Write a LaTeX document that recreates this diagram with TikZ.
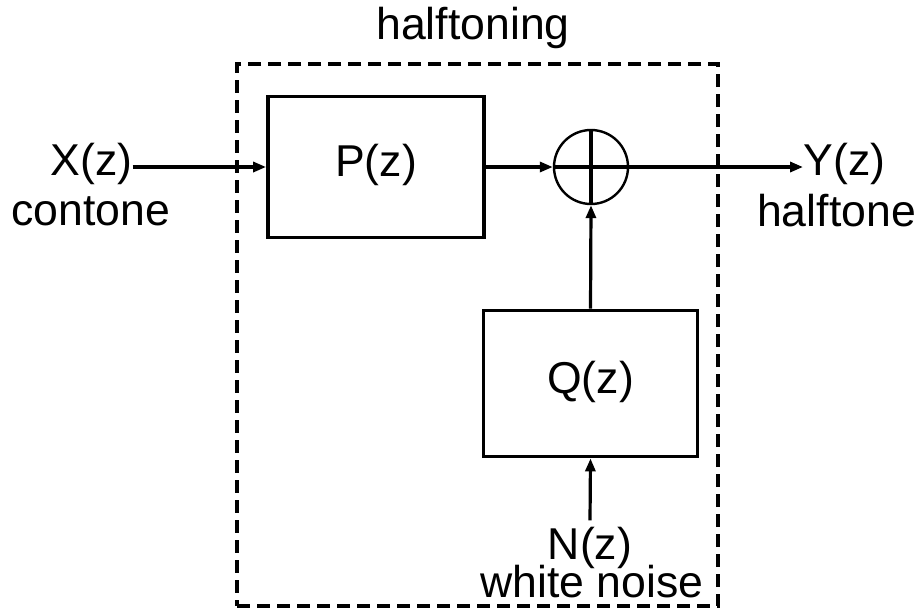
\documentclass[tikz,border=0pt]{standalone}
\usepackage{fontspec}
\setmainfont{Liberation Sans}
\usetikzlibrary{arrows.meta}
\begin{document}
\begin{tikzpicture}[x=0.5pt,y=-0.5pt,
  lab/.style={inner sep=0pt, font=\fontsize{22.3}{26}\selectfont},
  blk/.style={draw, line width=1.9pt, inner sep=0pt},
  dashbox/.style={draw, line width=1.9pt, dash pattern=on 6.5pt off 3.5pt, inner sep=0pt},
  sumc/.style={draw, circle, line width=1.2pt, minimum size=37pt, inner sep=0pt},
  arr/.style={-{Triangle[length=6.5pt,width=5pt]}, line width=1.6pt}]
\useasboundingbox (0,0) rectangle (919,612);
\node[dashbox, minimum width=240.5pt, minimum height=271pt] (ht) at (477.5,335) {};
\node[lab, anchor=base] (htl) at (473,39) {halftoning};
\node[blk, minimum width=108pt, minimum height=70.5pt] (P) at (376,167) {};
\node[lab, anchor=base] (Pl) at (376,176) {P(z)};
\node[sumc] (S) at (591,167) {};
\draw[line width=1.6pt] (S.west) -- (S.east);
\draw[line width=1.9pt] (S.north) -- (S.south);
\node[blk, minimum width=107pt, minimum height=73pt] (Q) at (590.5,383.5) {};
\node[lab, anchor=base] (Ql) at (590.5,393) {Q(z)};
\node[lab, anchor=base west] (X) at (50,175) {X(z)};
\node[lab, anchor=base] (Xc) at (91,225) {contone};
\node[lab, anchor=base west] (Y) at (803,175) {Y(z)};
\node[lab, anchor=base] (Yh) at (836.5,226) {halftone};
\node[lab, anchor=base] (N) at (590,559) {N(z)};
\node[lab, anchor=base] (Nw) at (592,597) {white noise};
\draw[arr] (X.east |- P.west) -- (P.west);
\draw[arr] (P.east) -- (S.west);
\draw[arr] (S.east) -- (S.east -| Y.west);
\draw[arr] (Q.north) -- (S.south);
\draw[arr] ([yshift=3pt]N.north) -- (Q.south);
\end{tikzpicture}
\end{document}
